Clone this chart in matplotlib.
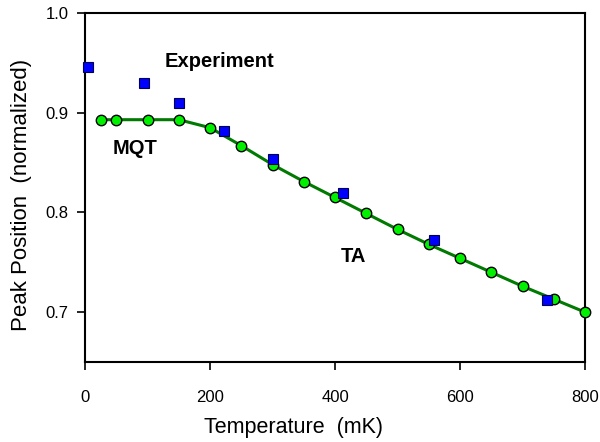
import matplotlib
matplotlib.use("Agg")
import matplotlib.pyplot as plt

plt.rcParams['font.family'] = ['Liberation Sans', 'DejaVu Sans']

# theory (green curve)
temp_theory = [25, 50, 100, 150, 200, 250, 300, 350, 400, 450, 500, 550, 600, 650, 700, 750, 800]
peak_theory = [0.893, 0.893, 0.893, 0.893, 0.885, 0.867, 0.848, 0.831, 0.815, 0.799, 0.783,
               0.768, 0.754, 0.740, 0.726, 0.713, 0.700]

# experiment (blue squares)
temp_exp = [5, 95, 150, 222, 300, 413, 558, 739]
peak_exp = [0.946, 0.930, 0.910, 0.882, 0.854, 0.819, 0.772, 0.712]

fig = plt.figure(figsize=(6, 4.42), dpi=100)
ax = fig.add_axes([85/600, 1-362/442, 500/600, 349/442])

ax.plot(temp_theory, peak_theory, color='#007a00', lw=2.2, zorder=2)
ax.plot(temp_theory, peak_theory, 'o', ms=7.5, mfc='#00f000', mec='black', mew=1, zorder=3,
        clip_on=False)
ax.plot(temp_exp, peak_exp, 's', ms=7, mfc='#0000ff', mec='#000050', mew=0.8, zorder=4,
        clip_on=False)

ax.text(215, 0.951, 'Experiment', fontsize=14.5, fontweight='bold', ha='center', va='center')
ax.text(80, 0.864, 'MQT', fontsize=14.5, fontweight='bold', ha='center', va='center')
ax.text(430, 0.756, 'TA', fontsize=14.5, fontweight='bold', ha='center', va='center')

ax.set_xlim(0, 800)
ax.set_ylim(0.65, 1.0)
ax.set_xticks([0, 200, 400, 600, 800])
ax.set_yticks([0.7, 0.8, 0.9, 1.0])
ax.set_yticklabels(['0.7', '0.8', '0.9', '1.0'])
ax.tick_params(direction='out', length=6, width=1.2, labelsize=12, pad=6)
ax.tick_params(axis='x', pad=14)
for s in ax.spines.values():
    s.set_linewidth(1.5)

# axis titles sit off-centre in the original
fig.text(293/600, 1-427/442, 'Temperature  (mK)', fontsize=15.5, ha='center', va='center')
fig.text(22/600, 1-195/442, 'Peak Position  (normalized)', fontsize=16, ha='center',
         va='center', rotation=90)

fig.savefig('out.png', dpi=100)
